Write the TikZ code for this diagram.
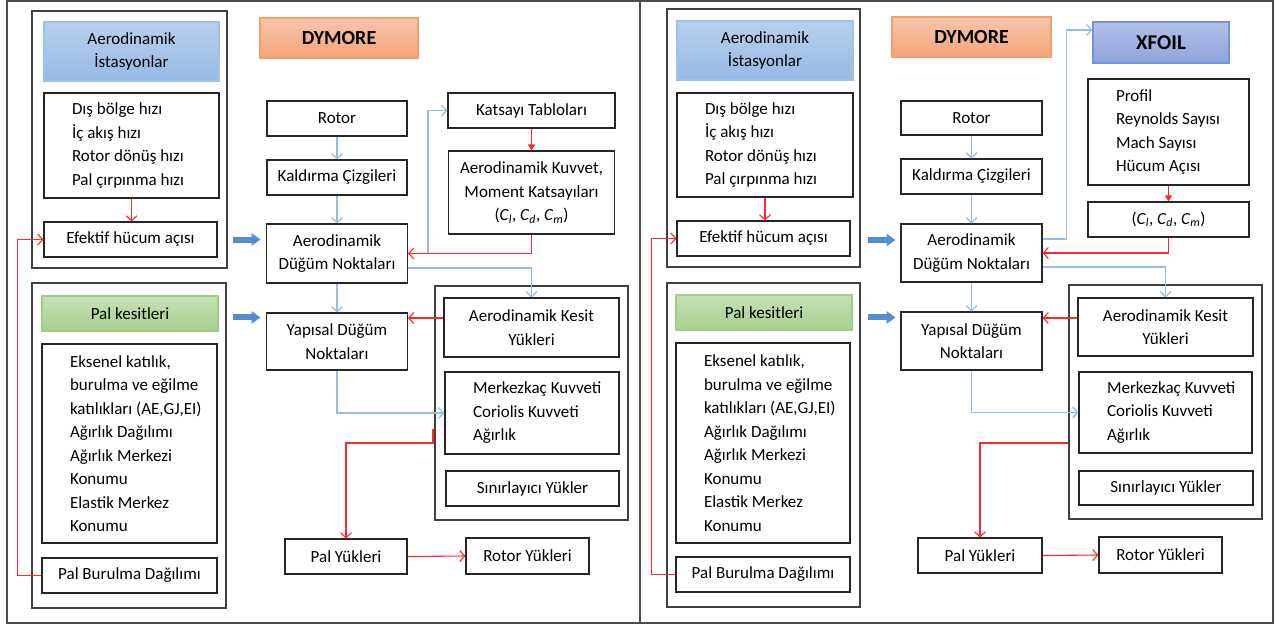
\documentclass[tikz,border=0pt]{standalone}
\usepackage{fontspec}
\setmainfont{Carlito}
\usetikzlibrary{arrows.meta}
\definecolor{hatmavi}{RGB}{150,190,228}
\definecolor{hatkirmizi}{RGB}{255,40,40}
\definecolor{okmavi}{RGB}{84,141,212}
\definecolor{mavicerceve}{RGB}{157,195,230}
\definecolor{maviust}{RGB}{184,208,238}
\definecolor{mavialt}{RGB}{150,185,228}
\definecolor{yesilcerceve}{RGB}{160,205,135}
\definecolor{yesilust}{RGB}{199,225,183}
\definecolor{yesilalt}{RGB}{165,207,142}
\definecolor{turuncucerceve}{RGB}{244,160,110}
\definecolor{turuncuust}{RGB}{248,198,170}
\definecolor{turuncualt}{RGB}{244,163,122}
\definecolor{xfcerceve}{RGB}{114,148,220}
\definecolor{xfust}{RGB}{178,192,233}
\definecolor{xfalt}{RGB}{142,164,220}
\newcommand{\Ck}[1]{\textit{C}\textsubscript{\textit{#1}}}

\begin{document}
\begin{tikzpicture}[x=1pt, y=-1pt, font=\fontsize{17}{23.5}\selectfont,
plain box/.style={draw=black!85, line width=1.1pt, inner sep=0pt, align=center},
list box/.style={plain box, align=flush left, execute at begin node={\leftskip=28pt\relax}},
group box/.style={draw=black!75, line width=1.1pt, inner sep=0pt},
blue head/.style={plain box, draw=mavicerceve, top color=maviust, bottom color=mavialt},
green head/.style={plain box, draw=yesilcerceve, top color=yesilust, bottom color=yesilalt},
title box/.style={plain box, draw=turuncucerceve, top color=turuncuust, bottom color=turuncualt, font=\fontsize{20}{24}\selectfont\bfseries},
xfoil box/.style={plain box, draw=xfcerceve, top color=xfust, bottom color=xfalt, font=\fontsize{21}{24}\selectfont\bfseries},
blue line/.style={draw=hatmavi, line width=1.3pt, -{Straight Barb[length=5pt,width=11pt]}},
red line/.style={draw=hatkirmizi, line width=1.1pt, -{Straight Barb[length=5pt,width=11pt]}},
red fill/.style={draw=hatkirmizi, line width=1.1pt, -{Triangle[length=6pt,width=7pt]}},
big arrow/.style={draw=okmavi, line width=6pt, -{Triangle[length=9pt,width=12pt]}}]
\useasboundingbox (0,0) rectangle (1276,627);
\draw[black!70, line width=1.5pt] (7,1) rectangle (1273,623);
\draw[black!70, line width=1.5pt] (640,1) -- (640,623);

% sol panel
\begin{scope}
\node[group box, minimum width=195, minimum height=257] (aeroL) at (129.5,139.5) {};
\node[blue head, minimum width=175, minimum height=59] (istL) at (131.5,51.5) {Aerodinamik\\İstasyonlar};
\node[list box, text width=175, minimum height=105] (hizL) at (131.5,145.5) {Dış bölge hızı\\İç akış hızı\\Rotor dönüş hızı\\Pal çırpınma hızı};
\node[plain box, minimum width=173, minimum height=35] (efL) at (130.5,239.5) {Efektif hücum açısı};
\node[group box, minimum width=194, minimum height=325] (palgL) at (129,445.5) {};
\node[green head, minimum width=176, minimum height=35] (kesL) at (130,313.5) {Pal kesitleri};
\node[list box, text width=175, minimum height=199] (katL) at (129.5,443.5) {Eksenel katılık,\\burulma ve eğilme\\katılıkları (AE,GJ,EI)\\Ağırlık Dağılımı\\Ağırlık Merkezi\\Konumu\\Elastik Merkez\\Konumu};
\node[plain box, minimum width=175, minimum height=35] (burL) at (129.5,575.5) {Pal Burulma Dağılımı};
\node[title box, minimum width=158, minimum height=40] (dymL) at (339,38) {DYMORE};
\node[plain box, minimum width=140, minimum height=35] (rotL) at (337,118.5) {Rotor};
\node[plain box, minimum width=140, minimum height=35] (kalL) at (337,177.5) {Kaldırma Çizgileri};
\node[plain box, minimum width=141, minimum height=59] (adnL) at (337,253.5) {Aerodinamik\\Düğüm Noktaları};
\node[plain box, minimum width=141, minimum height=57] (yapL) at (337,341.5) {Yapısal Düğüm\\Noktaları};
\node[plain box, minimum width=167, minimum height=35] (tabL) at (531.5,110.5) {Katsayı Tabloları};
\node[plain box, minimum width=166, minimum height=83] (kuvL) at (531.5,192.5) {Aerodinamik Kuvvet,\\Moment Katsayıları\\(\Ck{l}, \Ck{d}, \Ck{m})};
\node[group box, minimum width=193, minimum height=234] (yukL) at (531.5,403) {};
\node[plain box, minimum width=175, minimum height=59] (kyL) at (531.5,327.5) {Aerodinamik Kesit\\Yükleri};
\node[list box, text width=174, minimum height=82] (merL) at (532,413) {Merkezkaç Kuvveti\\Coriolis Kuvveti\\Ağırlık};
\node[plain box, minimum width=173, minimum height=35] (sinL) at (532.5,488.5) {Sınırlayıcı Yükler};
\node[plain box, minimum width=122, minimum height=35] (palL) at (346,556.5) {Pal Yükleri};
\node[plain box, minimum width=123, minimum height=36] (ryL) at (527.5,556) {Rotor Yükleri};
\coordinate (ayrL) at (433,429);
\end{scope}
\begin{scope}
\draw[big arrow] (aeroL.east |- efL) ++(5,0) -- ++(28,0);
\draw[big arrow] (palgL.east |- yapL.north) ++(6,5) -- ++(28,0);
\draw[red line] (hizL.south) -- (hizL.south |- efL.north);
\draw[red line] (burL.west) -- ++(-24,0) |- (efL.west);
\draw[blue line] (rotL) -- (kalL);
\draw[blue line] (kalL) -- (adnL);
\draw[blue line] (adnL) -- (yapL);
\draw[blue line] (adnL.east) -- ++(20,0) |- (tabL.west);
\draw[red fill] (tabL.south) -- (tabL.south |- kuvL.north);
\draw[red line] (kuvL.south) |- (adnL.east);
\draw[blue line] ([yshift=-14.5pt]adnL.east) -| (kyL.north);
\draw[red line] ([yshift=9.5pt]kyL.west) -- ([yshift=9.5pt]kyL.west -| yapL.east);
\draw[blue line] (yapL.south) |- (merL.west);
\draw[red line] (ayrL) -- ++(0,14) -| (palL.north);
\draw[red line] (palL.east) -- (ryL.west);
\end{scope}

% sag panel
\begin{scope}
\node[group box, minimum width=193, minimum height=258] (aeroR) at (763.5,138) {};
\node[blue head, minimum width=176, minimum height=59] (istR) at (765,50.5) {Aerodinamik\\İstasyonlar};
\node[list box, text width=176, minimum height=104] (hizR) at (765,145) {Dış bölge hızı\\İç akış hızı\\Rotor dönüş hızı\\Pal çırpınma hızı};
\node[plain box, minimum width=173, minimum height=35] (efR) at (763.5,238.5) {Efektif hücum açısı};
\node[group box, minimum width=193, minimum height=324] (palgR) at (763.5,445) {};
\node[green head, minimum width=176, minimum height=35] (kesR) at (764,312.5) {Pal kesitleri};
\node[list box, text width=174, minimum height=200] (katR) at (763,443) {Eksenel katılık,\\burulma ve eğilme\\katılıkları (AE,GJ,EI)\\Ağırlık Dağılımı\\Ağırlık Merkezi\\Konumu\\Elastik Merkez\\Konumu};
\node[plain box, minimum width=174, minimum height=35] (burR) at (763,574.5) {Pal Burulma Dağılımı};
\node[title box, minimum width=159, minimum height=40] (dymR) at (971.5,37) {DYMORE};
\node[xfoil box, minimum width=136, minimum height=41] (xfR) at (1161,42.5) {XFOIL};
\node[plain box, minimum width=141, minimum height=34] (rotR) at (971.5,118) {Rotor};
\node[plain box, minimum width=141, minimum height=35] (kalR) at (971.5,176.5) {Kaldırma Çizgileri};
\node[plain box, minimum width=141, minimum height=58] (adnR) at (971.5,253) {Aerodinamik\\Düğüm Noktaları};
\node[plain box, minimum width=141, minimum height=58] (yapR) at (971.5,341) {Yapısal Düğüm\\Noktaları};
\node[list box, text width=161, minimum height=106] (prfR) at (1168.5,132) {Profil\\Reynolds Sayısı\\Mach Sayısı\\Hücum Açısı};
\node[plain box, minimum width=161, minimum height=35] (clR) at (1168.5,219.5) {(\Ck{l}, \Ck{d}, \Ck{m})};
\node[group box, minimum width=193, minimum height=234] (yukR) at (1165.5,402) {};
\node[plain box, minimum width=175, minimum height=58] (kyR) at (1165.5,327) {Aerodinamik Kesit\\Yükleri};
\node[list box, text width=173, minimum height=81] (merR) at (1165.5,412.5) {Merkezkaç Kuvveti\\Coriolis Kuvveti\\Ağırlık};
\node[plain box, minimum width=174, minimum height=34] (sinR) at (1166,488) {Sınırlayıcı Yükler};
\node[plain box, minimum width=124, minimum height=35] (palR) at (980,555.5) {Pal Yükleri};
\node[plain box, minimum width=123, minimum height=36] (ryR) at (1160.5,555) {Rotor Yükleri};
\end{scope}
\begin{scope}
\draw[big arrow] (aeroR.east |- efR) ++(7,1.5) -- ++(28,0);
\draw[big arrow] (palgR.east |- yapR.north) ++(7,6) -- ++(28,0);
\draw[red line] (hizR.south) -- (hizR.south |- efR.north);
\draw[red line] (burR.west) -- ++(-24,0) |- (efR.west);
\draw[blue line] (rotR) -- (kalR);
\draw[blue line] (kalR) -- (adnR);
\draw[blue line] (adnR) -- (yapR);
\draw[blue line] ([yshift=14pt]adnR.east) -- ++(24,0) |- ([yshift=12.5pt]xfR.west);
\draw[red fill] (prfR.south) -- (prfR.south |- clR.north);
\draw[red line] (clR.south) |- (adnR.east);
\draw[blue line] ([yshift=-14pt]adnR.east) -| (kyR.north);
\draw[red line] ([yshift=9pt]kyR.west) -- ([yshift=9pt]kyR.west -| yapR.east);
\draw[blue line] (yapR.south) |- (merR.west);
\draw[red line] ([yshift=-41pt]yukR.west) -| (palR.north);
\draw[red line] (palR.east) -- (ryR.west);
\end{scope}
\end{tikzpicture}
\end{document}
